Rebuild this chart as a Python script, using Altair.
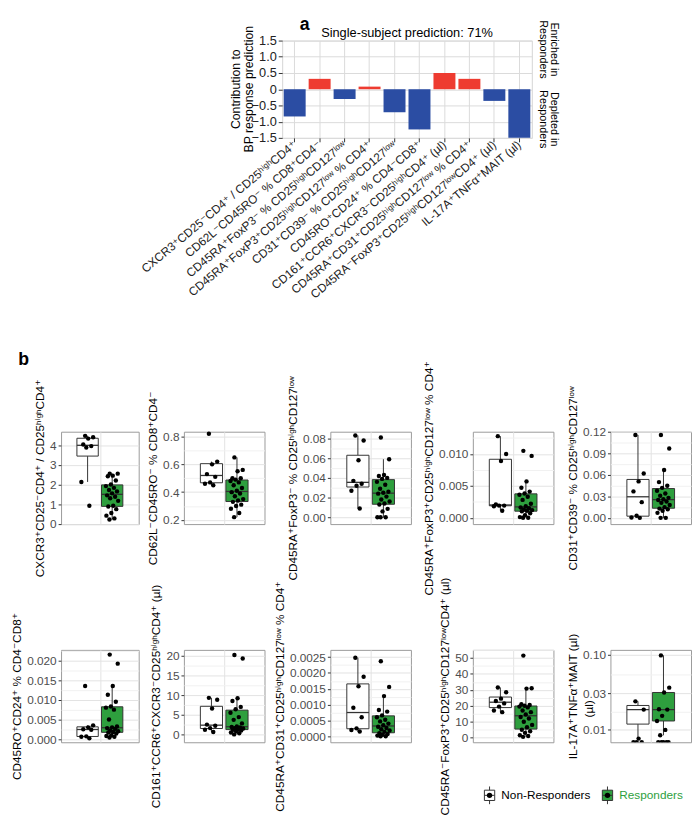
import json
import numpy as np
import pandas as pd
import altair as alt

# ---------------- data ----------------
FEATURES = [
    "CXCR3⁺CD25⁻CD4⁺ / CD25ʰⁱᵍʰCD4⁺",
    "CD62L⁻CD45RO⁻ % CD8⁺CD4⁻",
    "CD45RA⁺FoxP3⁻ % CD25ʰⁱᵍʰCD127ˡᵒʷ",
    "CD45RA⁺FoxP3⁺CD25ʰⁱᵍʰCD127ˡᵒʷ % CD4⁺",
    "CD31⁺CD39⁻ % CD25ʰⁱᵍʰCD127ˡᵒʷ",
    "CD45RO⁺CD24⁺ % CD4⁻CD8⁺",
    "CD161⁺CCR6⁺CXCR3⁻CD25ʰⁱᵍʰCD4⁺ (µl)",
    "CD45RA⁺CD31⁺CD25ʰⁱᵍʰCD127ˡᵒʷ % CD4⁺",
    "CD45RA⁻FoxP3⁺CD25ʰⁱᵍʰCD127ˡᵒʷCD4⁺ (µl)",
    "IL-17A⁺TNFα⁺MAIT (µl)",
]
CONTRIB = [-0.84, 0.32, -0.30, 0.08, -0.71, -1.24, 0.50, 0.32, -0.36, -1.50]
A_TICKS = [-1.5, -1.0, -0.5, 0.0, 0.5, 1.0, 1.5]
A_TITLE = "Single-subject prediction: 71%"
A_YTITLE = ["Contribution to", "BP response prediction"]
SIDE_TOP = ["Enriched in", "Responders"]
SIDE_BOTTOM = ["Depleted in", "Responders"]

GROUPS = ["Non-Responders", "Responders"]

NR_1 = [4.47, 4.40, 4.33, 4.03, 3.95, 3.88, 2.13, 0.92]
R_1 = [2.55, 2.55, 2.45, 2.42, 2.20, 2.00, 1.92, 1.83, 1.72, 1.65, 1.55, 1.45, 1.38, 1.30, 1.17,
       0.92, 0.88, 0.75, 0.55, 0.42, 0.28, 0.22]
NR_2 = [0.82, 0.62, 0.60, 0.53, 0.51, 0.47, 0.46, 0.45]
R_2 = [0.65, 0.56, 0.55, 0.50, 0.50, 0.49, 0.48, 0.47, 0.45, 0.43, 0.41, 0.40, 0.39, 0.37, 0.35,
       0.34, 0.33, 0.31, 0.30, 0.28, 0.25, 0.22]
NR_3 = [0.083, 0.078, 0.058, 0.037, 0.034, 0.032, 0.027, 0.009]
R_3 = [0.081, 0.059, 0.043, 0.042, 0.040, 0.039, 0.036, 0.033, 0.029, 0.026, 0.025, 0.024, 0.021,
       0.018, 0.016, 0.014, 0.013, 0.0086, 0.006, 0.0, 0.0, 0.0]
NR_4 = [0.0128, 0.0100, 0.0089, 0.0021, 0.0019, 0.0019, 0.0018, 0.0011]
R_4 = [0.0105, 0.0097, 0.0057, 0.0047, 0.0041, 0.0038, 0.0036, 0.0033, 0.0028, 0.0022, 0.0018,
       0.0016, 0.0015, 0.0013, 0.0012, 0.0011, 0.0010, 0.0007, 0.0004, 0.0001, 0.0, 0.0]
NR_5 = [0.116, 0.062, 0.051, 0.037, 0.022, 0.003, 0.0005, 0.0]
R_5 = [0.116, 0.097, 0.067, 0.050, 0.045, 0.042, 0.038, 0.034, 0.031, 0.028, 0.026, 0.025, 0.023,
       0.021, 0.018, 0.015, 0.013, 0.012, 0.010, 0.007, 0.0, 0.0]
NR_6 = [0.0135, 0.0035, 0.0030, 0.0025, 0.0024, 0.0007, 0.0006, 0.0002]
R_6 = [0.0215, 0.0192, 0.0135, 0.0113, 0.0095, 0.0083, 0.0080, 0.0075, 0.0050, 0.0032, 0.0030,
       0.0028, 0.0026, 0.0022, 0.0020, 0.0018, 0.0017, 0.0014, 0.0010, 0.0008, 0.0006, 0.0004]
NR_7 = [9.3, 8.8, 6.6, 2.5, 2.2, 1.6, 1.2, 0.6]
R_7 = [20.2, 19.3, 9.2, 8.5, 7.0, 6.4, 5.5, 4.4, 3.7, 2.8, 2.0, 1.9, 1.8, 1.6, 1.5, 1.3, 1.2, 1.0,
       0.8, 0.5, 0.3, 0.0]
NR_8 = [0.00248, 0.00188, 0.00158, 0.00090, 0.00060, 0.00025, 0.00020, 0.00015]
R_8 = [0.00237, 0.00156, 0.00127, 0.00083, 0.00078, 0.00066, 0.00060, 0.00052, 0.00047, 0.00040,
       0.00035, 0.00030, 0.00026, 0.00022, 0.00018, 0.00014, 0.00010, 0.00007, 0.00005, 0.00002,
       0.0, 0.0]
NR_9 = [31.5, 28.5, 24.5, 23.0, 21.5, 19.5, 17.0, 16.0]
R_9 = [51.5, 31.0, 30.8, 21.0, 20.5, 20.0, 19.5, 19.0, 17.0, 16.0, 14.5, 13.0, 12.0, 10.0, 8.0,
       6.5, 5.0, 4.0, 3.0, 1.5, 1.0, 0.5]
NR_10 = [0.0236, 0.0183, 0.0075, 0.0, 0.0, 0.0]
R_10 = [0.097, 0.036, 0.031, 0.0185, 0.0183, 0.0151, 0.0129, 0.0098, 0.0083, 0.0, 0.0, 0.0, 0.0, 0.0]

TICKS = [
    [0, 1, 2, 3, 4],
    [0.2, 0.4, 0.6, 0.8],
    [0.0, 0.02, 0.04, 0.06, 0.08],
    [0.0, 0.005, 0.01],
    [0.0, 0.03, 0.06, 0.09, 0.12],
    [0.0, 0.005, 0.01, 0.015, 0.02],
    [0, 5, 10, 15, 20],
    [0.0, 0.0005, 0.001, 0.0015, 0.002, 0.0025],
    [0, 10, 20, 30, 40, 50],
    [0.01, 0.03, 0.1],
]
FORMATS = ["d", ".1f", ".2f", ".3f", ".2f", ".3f", "d", ".4f", "d", ".2f"]
DOMAINS = [
    [-0.01, 4.68], [0.17, 0.835], [-0.0069, 0.0869], [-0.001, 0.0135], [-0.0087, 0.1205],
    [-0.0008, 0.0227], [-2.0, 21.5], [-0.00019, 0.00273], [-2.9, 55.1], [0.0067, 0.115],
]
NR_ALL = [NR_1, NR_2, NR_3, NR_4, NR_5, NR_6, NR_7, NR_8, NR_9, NR_10]
R_ALL = [R_1, R_2, R_3, R_4, R_5, R_6, R_7, R_8, R_9, R_10]
UNIT_NOTE = "(µl)"

# ---------------- style ----------------
FONT = "Liberation Sans, Arial, DejaVu Sans, sans-serif"
INK = "#333333"
GREEN = "#2E9F3E"
RED = "#EE3B30"
BLUE = "#2B4DA3"
BORDER = "#9a9a9a"
GRID_MAJ = "#e2e2e2"
GRID_MIN = "#f1f1f1"
PANEL_H = 94


def spacer(w, h, top=None, bottom=None):
    base = alt.Chart(pd.DataFrame({"s": [0]}))
    if top is None and bottom is None:
        return base.mark_point(opacity=0).encode(
            x=alt.value(0), y=alt.value(0)).properties(width=w, height=h)
    # white guide line on the page margin: fixes how far the block reaches up / down
    return base.mark_rule(color="white", strokeWidth=1).encode(
        x=alt.value(1), y=alt.value(-(top or 0)), y2=alt.value(bottom or 0)
    ).properties(width=w, height=h)


def box_stats(vals, log):
    arr = np.array([v for v in vals if (v > 0 or not log)], dtype=float)
    t = np.log10(arr) if log else arr
    q1, med, q3 = np.percentile(t, [25, 50, 75])
    iqr = q3 - q1
    inside = t[(t >= q1 - 1.5 * iqr) & (t <= q3 + 1.5 * iqr)]
    back = (lambda z: float(10 ** z)) if log else (lambda z: float(z))
    return {"q1": back(q1), "med": back(med), "q3": back(q3),
            "wlo": back(inside.min()), "whi": back(inside.max())}


def label_text(txt, size, weight="normal", angle=0, xv=0, yv=0, color="black", align="center"):
    return alt.Chart(pd.DataFrame({"t": [txt]})).mark_text(
        fontSize=size, fontWeight=weight, angle=angle, align=align, baseline="middle",
        color=color, font=FONT).encode(
        text="t:N", x=alt.value(xv), y=alt.value(yv))


def legend_item(xc, yc, label, fill, color):
    one = alt.Chart(pd.DataFrame({"t": [label]}))
    return [
        one.mark_rule(color=INK, strokeWidth=1).encode(
            x=alt.value(xc), y=alt.value(yc - 9), y2=alt.value(yc + 9)),
        one.mark_square(size=110, fill=fill, stroke=INK, strokeWidth=1, opacity=1).encode(
            x=alt.value(xc), y=alt.value(yc)),
        one.mark_rule(color=INK, strokeWidth=1).encode(
            x=alt.value(xc - 5), x2=alt.value(xc + 5), y=alt.value(yc)),
        one.mark_circle(size=30, color="black", opacity=1).encode(
            x=alt.value(xc), y=alt.value(yc)),
        one.mark_text(align="left", baseline="middle", fontSize=12, font=FONT, color=color).encode(
            x=alt.value(xc + 12), y=alt.value(yc), text="t:N"),
    ]


def box_panel(i, width, extra=()):
    title, nr, r = FEATURES[i], NR_ALL[i], R_ALL[i]
    ticks, fmt, domain = TICKS[i], FORMATS[i], DOMAINS[i]
    log = i == 9
    box_rows, wh_rows, pt_rows = [], [], []
    for g, vals, xc in (("NR", nr, -0.19), ("R", r, 0.19)):
        st = box_stats(vals, log)
        box_rows.append(dict(g=g, xl=xc - 0.165, xr=xc + 0.165, **st))
        wh_rows.append(dict(g=g, xc=xc, a=st["q3"], b=st["whi"]))
        wh_rows.append(dict(g=g, xc=xc, a=st["q1"], b=st["wlo"]))
        for k, v in enumerate(vals):
            off = ((k * 0.6180339887 + 0.31) % 1.0 - 0.5) * 0.2
            pt_rows.append(dict(g=g, xj=xc + off, v=(v if (v > 0 or not log) else domain[0])))
    if log:
        mids = [10 ** ((np.log10(a) + np.log10(b)) / 2) for a, b in zip(ticks[:-1], ticks[1:])]
    else:
        step = ticks[1] - ticks[0]
        mids = [a + step / 2 for a in ticks[:-1]] + [ticks[0] - step / 2, ticks[-1] + step / 2]
    minors = [float(m) for m in mids if domain[0] <= m <= domain[1]]
    test = f"indexof({json.dumps(ticks)}, datum.value) >= 0"
    yaxis = alt.Axis(
        title=title, values=list(ticks) + minors, format=fmt,
        labelExpr=f"{test} ? datum.label : ''",
        tickColor={"condition": {"test": test, "value": INK}, "value": "rgba(0,0,0,0)"},
        gridColor={"condition": {"test": test, "value": GRID_MAJ}, "value": GRID_MIN},
        domain=False, tickSize=3, labelPadding=2, labelFlush=False, labelOverlap=False,
        labelFontSize=12, titleFontSize=12, labelColor="#4d4d4d", titleColor="black",
        titleLimit=0, titlePadding=3)
    ysc = alt.Scale(type="log" if log else "linear", domain=domain, nice=False, zero=False)
    xsc = alt.Scale(domain=[-0.6, 0.6], nice=False, zero=False)
    xaxis = alt.Axis(values=[0], labels=False, ticks=False, domain=False, grid=True,
                     gridColor=GRID_MAJ, title=None)
    fill = alt.condition("datum.g == 'R'", alt.value(GREEN), alt.value("white"))
    whisk = alt.Chart(pd.DataFrame(wh_rows)).mark_rule(color=INK, strokeWidth=1).encode(
        x=alt.X("xc:Q", scale=xsc, axis=xaxis), y=alt.Y("a:Q", scale=ysc, axis=yaxis), y2="b:Q")
    boxes = alt.Chart(pd.DataFrame(box_rows)).mark_rect(stroke=INK, strokeWidth=1).encode(
        x=alt.X("xl:Q", scale=xsc, axis=xaxis), x2="xr:Q",
        y=alt.Y("q1:Q", scale=ysc, axis=yaxis), y2="q3:Q", fill=fill)
    meds = alt.Chart(pd.DataFrame(box_rows)).mark_rule(color=INK, strokeWidth=1.3).encode(
        x=alt.X("xl:Q", scale=xsc, axis=xaxis), x2="xr:Q",
        y=alt.Y("med:Q", scale=ysc, axis=yaxis))
    pts = alt.Chart(pd.DataFrame(pt_rows)).mark_circle(
        size=20, color="black", opacity=1, clip=log).encode(
        x=alt.X("xj:Q", scale=xsc, axis=xaxis), y=alt.Y("v:Q", scale=ysc, axis=yaxis))
    return alt.layer(whisk, boxes, meds, pts, *extra).properties(
        width=width, height=PANEL_H, view=alt.ViewBackground(stroke=BORDER, strokeWidth=1))


# ---------------- panel a ----------------
A_W, A_H = 254, 99
dfA = pd.DataFrame({"feature": FEATURES, "value": CONTRIB})
bars = alt.Chart(dfA).mark_bar().encode(
    x=alt.X("feature:N", sort=FEATURES,
            scale=alt.Scale(paddingInner=0.12, paddingOuter=0.06),
            axis=alt.Axis(title=None, labelAngle=-40, labelAlign="right", labelBaseline="middle",
                          labelLimit=0, labelFontSize=12, labelColor="#222222", tickSize=4,
                          tickColor=INK, domain=False, grid=True, gridColor="#dadada",
                          labelPadding=1)),
    y=alt.Y("value:Q", scale=alt.Scale(domain=[-1.5, 1.5], nice=False),
            axis=alt.Axis(title=None, values=A_TICKS,
                          format=".1f", labelExpr="datum.value == 0 ? '0' : datum.label",
                          labelFontSize=13, labelColor="#222222",
                          tickSize=4, tickColor=INK, domain=False,
                          grid=True, gridColor="#dadada", labelFlush=False)),
    color=alt.condition("datum.value > 0", alt.value(RED), alt.value(BLUE)),
)
chartA = alt.layer(
    bars,
    label_text(A_YTITLE[0], 12.5, "normal", 270, -47, A_H / 2),
    label_text(A_YTITLE[1], 12.5, "normal", 270, -34, A_H / 2),
    label_text("a", 18, "bold", 0, 23, -16),
    label_text(A_TITLE, 13, "normal", 0, A_W / 2, -8),
    label_text(SIDE_TOP[0], 11, "normal", 90, A_W + 23, 9),
    label_text(SIDE_TOP[1], 11, "normal", 90, A_W + 11, 9),
    label_text(SIDE_BOTTOM[0], 11, "normal", 90, A_W + 23, 80),
    label_text(SIDE_BOTTOM[1], 11, "normal", 90, A_W + 11, 80),
).properties(width=A_W, height=A_H, view=alt.ViewBackground(stroke="#d4d4d4"))

spA = spacer(275, A_H, top=24.5, bottom=305.5)
rowA = alt.concat(spA, chartA, columns=2, spacing=0, bounds="flush", align="each")

# ---------------- panel b ----------------
b_label = label_text("b", 18, "bold", 0, -38, -73)
legend_layers = (legend_item(-123, 148, GROUPS[0], "white", "black")
                 + legend_item(-3, 148, GROUPS[1], GREEN, GREEN))
unit_note = label_text(UNIT_NOTE, 12, "normal", 270, -22, 60)

row1 = [box_panel(0, 79, extra=[b_label]), box_panel(1, 82), box_panel(2, 82),
        box_panel(3, 82), box_panel(4, 82)]
row2 = [box_panel(5, 79), box_panel(6, 82), box_panel(7, 82), box_panel(8, 82),
        box_panel(9, 82, extra=[unit_note] + legend_layers)]

H = PANEL_H
GAPS = [50, 46, 67, 63, 58]
cells = [spacer(GAPS[0], 222, top=89.5, bottom=0.0)]
for k in range(5):
    if k:
        cells.append(spacer(GAPS[k], H))
    cells.append(row1[k])
cells.append(spacer(GAPS[0], H))
for k in range(5):
    if k:
        cells.append(spacer(GAPS[k], H))
    cells.append(row2[k])
gridB = alt.concat(*cells, columns=10, spacing=0, bounds="flush", align="each")

chart = alt.concat(rowA, gridB, columns=1, spacing=0, align="each").resolve_scale(
    x="independent", y="independent").properties(padding=0).configure(
    font=FONT
).configure_view(stroke="transparent").configure_axis(
    labelFont=FONT, titleFont=FONT, titleFontWeight="normal"
).configure_text(font=FONT)

chart.save("out.html", embed_options={"renderer": "svg", "actions": False})
